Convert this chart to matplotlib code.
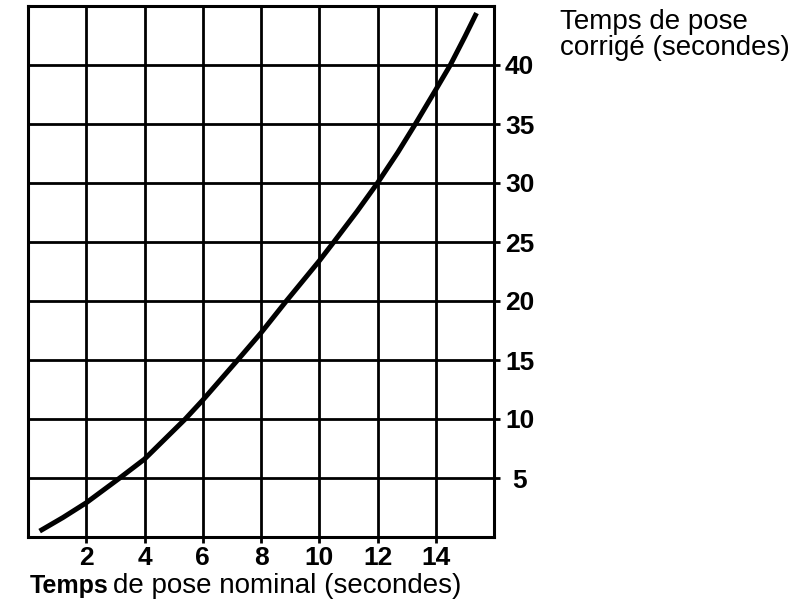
import matplotlib
matplotlib.use("Agg")
import matplotlib.pyplot as plt

# values
nominal = [0.4, 1.2, 2.0, 3.15, 4.0, 5.4, 6.0, 7.2, 8.0, 8.87, 10.0, 10.5,
           11.3, 12.0, 12.7, 13.3, 14.0, 14.5, 15.0, 15.4]
corrige = [0.5, 1.65, 2.9, 5.0, 6.6, 10.0, 11.6, 15.0, 17.3, 20.0, 23.4, 25.0,
           27.6, 30.0, 32.6, 35.0, 37.9, 40.0, 42.4, 44.4]

x_ticks = [2, 4, 6, 8, 10, 12, 14]
y_ticks = [5, 10, 15, 20, 25, 30, 35, 40]

title_lines = ["Temps de pose", "corrigé (secondes)"]
xlabel_bold = "Temps"
xlabel_rest = "de pose nominal (secondes)"

W, H = 805, 603
plt.rcParams["font.family"] = ["Liberation Sans", "DejaVu Sans"]

fig = plt.figure(figsize=(W / 100, H / 100), dpi=100)
ax = fig.add_axes([28 / W, 1 - 537 / H, 466 / W, 531 / H])

ax.plot(nominal, corrige, color="black", lw=3.6,
        solid_capstyle="butt", solid_joinstyle="round", zorder=3)

ax.set_xlim(0, 16)
ax.set_ylim(0, 45)
ax.yaxis.tick_right()
ax.set_xticks(x_ticks, labels=[str(v) for v in x_ticks], fontweight="bold")
ax.set_yticks(y_ticks, labels=[str(v) for v in y_ticks], fontweight="bold", ha="center")
ax.tick_params(axis="both", direction="out", length=4.5, width=2,
               color="black", labelsize=19)
ax.tick_params(axis="x", pad=2)
ax.tick_params(axis="y", pad=14)

ax.grid(True, color="black", linewidth=2)
ax.set_axisbelow(True)
for s in ax.spines.values():
    s.set_linewidth(2.2)

# corrected-time caption, upper right
fig.text(560 / W, 1 - 29 / H, title_lines[0], fontsize=20, va="baseline")
fig.text(560 / W, 1 - 55 / H, title_lines[1], fontsize=20, va="baseline")

# nominal-time caption under the axis, first word bold
fig.text(30 / W, 1 - 593 / H, xlabel_bold, fontsize=18, fontweight="bold", va="baseline")
fig.text(113 / W, 1 - 593 / H, xlabel_rest, fontsize=20, va="baseline")

fig.savefig("out.png", dpi=100)
